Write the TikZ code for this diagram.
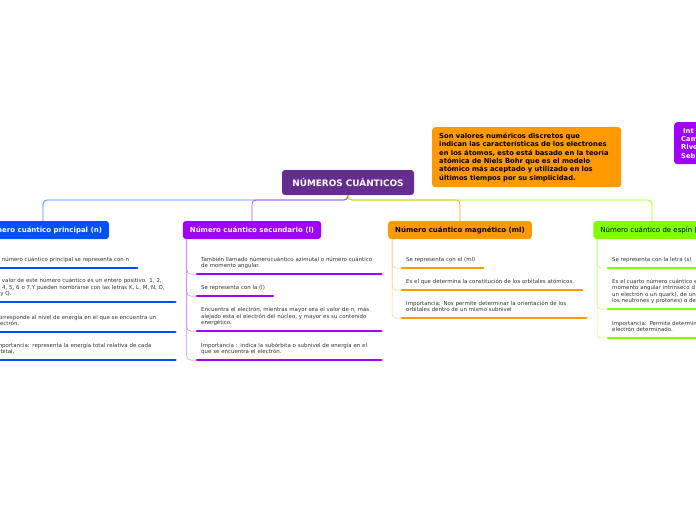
\documentclass[tikz,border=0pt]{standalone}
\usepackage{fontspec}
\setmainfont{DejaVu Sans}
\usetikzlibrary{positioning}
\definecolor{core}{HTML}{662D91}
\definecolor{pblue}{HTML}{0050FF}
\definecolor{pviolet}{HTML}{A000FF}
\definecolor{porange}{HTML}{FF9900}
\definecolor{pgreen}{HTML}{80FF00}
\definecolor{ink}{HTML}{333333}
\tikzset{
  root/.style={rectangle,rounded corners=3pt,fill=core,text=white,font=\fontsize{8.9}{10}\selectfont\bfseries,
               minimum height=25pt,minimum width=132pt,inner xsep=6pt},
  head/.style={rectangle,rounded corners=3pt,minimum height=18pt,inner xsep=7pt,inner ysep=2pt,
               font=\fontsize{7}{8}\selectfont\bfseries,text=white},
  note/.style={rectangle,rounded corners=3pt,align=left,anchor=north west,inner xsep=7pt,inner ysep=5.5pt,
               font=\fontsize{6.8}{8.4}\selectfont\bfseries},
  item/.style={anchor=south west,align=left,inner xsep=0pt,inner ysep=4pt,text=ink,
               font=\fontsize{5.45}{6.5}\selectfont,execute at end node={\strut}},
  itemw/.style={item,text width=172pt},
  link/.style={line width=0.8pt,rounded corners=4pt},
  sub/.style={line width=0.5pt,rounded corners=4pt},
  uline/.style={line width=2.4pt,line cap=round},
}
% underline of an item and its link to the branch spine
\newcommand{\subline}[3]{%
  \draw[sub,#1!50] (#2) |- ([xshift=-4pt]#3.south west);
  \draw[uline,#1] ([xshift=-4pt]#3.south west) -- ([xshift=8pt]#3.south east);}

\begin{document}
\begin{tikzpicture}[x=1pt,y=-1pt]
\useasboundingbox (0,0) rectangle (696,520);
\fill[white] (0,0) rectangle (696,520);
\clip (0,0) rectangle (696,520);

\node[root] (root) at (348,182.5) {NÚMEROS CUÁNTICOS};
\node[note,fill=porange,text width=175pt,minimum height=60pt] (info) at (432,127)
  {Son valores numéricos discretos que\\indican las características de los electrones\\en los átomos, esto está basado en la teoría\\atómica de Niels Bohr que es el modelo\\atómico más aceptado y utilizado en los\\últimos tiempos por su simplicidad.};
\node[note,fill=pviolet,text=white,text width=40pt,minimum height=42pt,inner xsep=7pt] (team) at (674,122)
  {\hspace*{2pt}Int\\Cam\\Rive\\Seb};

% branch heads
\node[head,fill=pblue] (pri) at (43,230) {Número cuántico principal (n)};
\node[head,fill=pviolet] (sec) at (252,230) {Número cuántico secundario (l)};
\node[head,fill=porange,text=black] (mag) at (460,230) {Número cuántico magnético (ml)};
\node[head,fill=pgreen,text=black,font=\fontsize{7}{8}\selectfont] (spin) at (652,230) {Número cuántico de espín (s)};

\coordinate (hub) at (348,200);
\draw[link,pblue!70] (root.south) -- (hub) -| (pri.north);
\draw[link,pviolet!70] (root.south) -- (hub) -| (sec.north);
\draw[link,porange] (root.south) -- (hub) -| (mag.north);
\draw[link,pgreen!75!yellow] (root.south) -- (hub) -| (spin.north);

% spines under the heads
\coordinate (prisp) at ([xshift=4pt]pri.south west);
\coordinate (secsp) at ([xshift=4pt]sec.south west);
\coordinate (magsp) at ([xshift=4pt]mag.south west);
\coordinate (spinsp) at ([xshift=4pt]spin.south west);

% principal
\node[item] (p1) at (-5,268) {El número cuántico principal se representa con n};
\node[itemw] (p2) at (-5,302) {El valor de este número cuántico es un entero positivo. 1, 2,\\3, 4, 5, 6 o 7.Y pueden nombrarse con las letras K, L, M, N, O,\\P y Q.};
\node[itemw] (p3) at (-5,332) {Corresponde al nivel de energía en el que se encuentra un\\electrón.};
\node[itemw] (p4) at (-5,360) {Importancia: representa la energía total relativa de cada\\orbital.};
\foreach \n in {p1,p2,p3,p4} {\subline{pblue}{prisp}{\n}}

% secundario
\node[itemw] (s1) at (201,274) {También llamado númerocuántico azimutal o número cuántico\\de momento angular.};
\node[item] (s2) at (201,296) {Se representa con la (l)};
\node[itemw] (s3) at (201,331) {Encuentra el electrón, mientras mayor sea el valor de n, más\\alejado esta el electrón del núcleo, y mayor es su contenido\\energético.};
\node[itemw] (s4) at (201,360) {Importancia : indica la subórbita o subnivel de energía en el\\que se encuentra el electrón.};
\foreach \n in {s1,s2,s3,s4} {\subline{pviolet}{secsp}{\n}}

% magnetico
\node[item] (m1) at (406,268) {Se representa con el (ml)};
\node[item] (m2) at (406,290) {Es el que determina la constitución de los orbitales atómicos,};
\node[itemw] (m3) at (406,318) {Importancia: Nos permite determinar la orientación de los\\orbitales dentro de un mismo subnivel};
\foreach \n in {m1,m2,m3} {\subline{porange}{magsp}{\n}}

% espin
\node[item] (e1) at (612,268) {Se representa con la letra (s)};
\node[itemw] (e2) at (612,309) {Es el cuarto número cuántico e\\momento angular intrínseco d\\un electrón o un quark), de un\\los neutrones y protones) o de};
\node[itemw] (e3) at (612,338) {Importancia: Permite determin\\electrón determinado.};
\foreach \n in {e1,e2,e3} {\subline{pgreen}{spinsp}{\n}}
\end{tikzpicture}
\end{document}
